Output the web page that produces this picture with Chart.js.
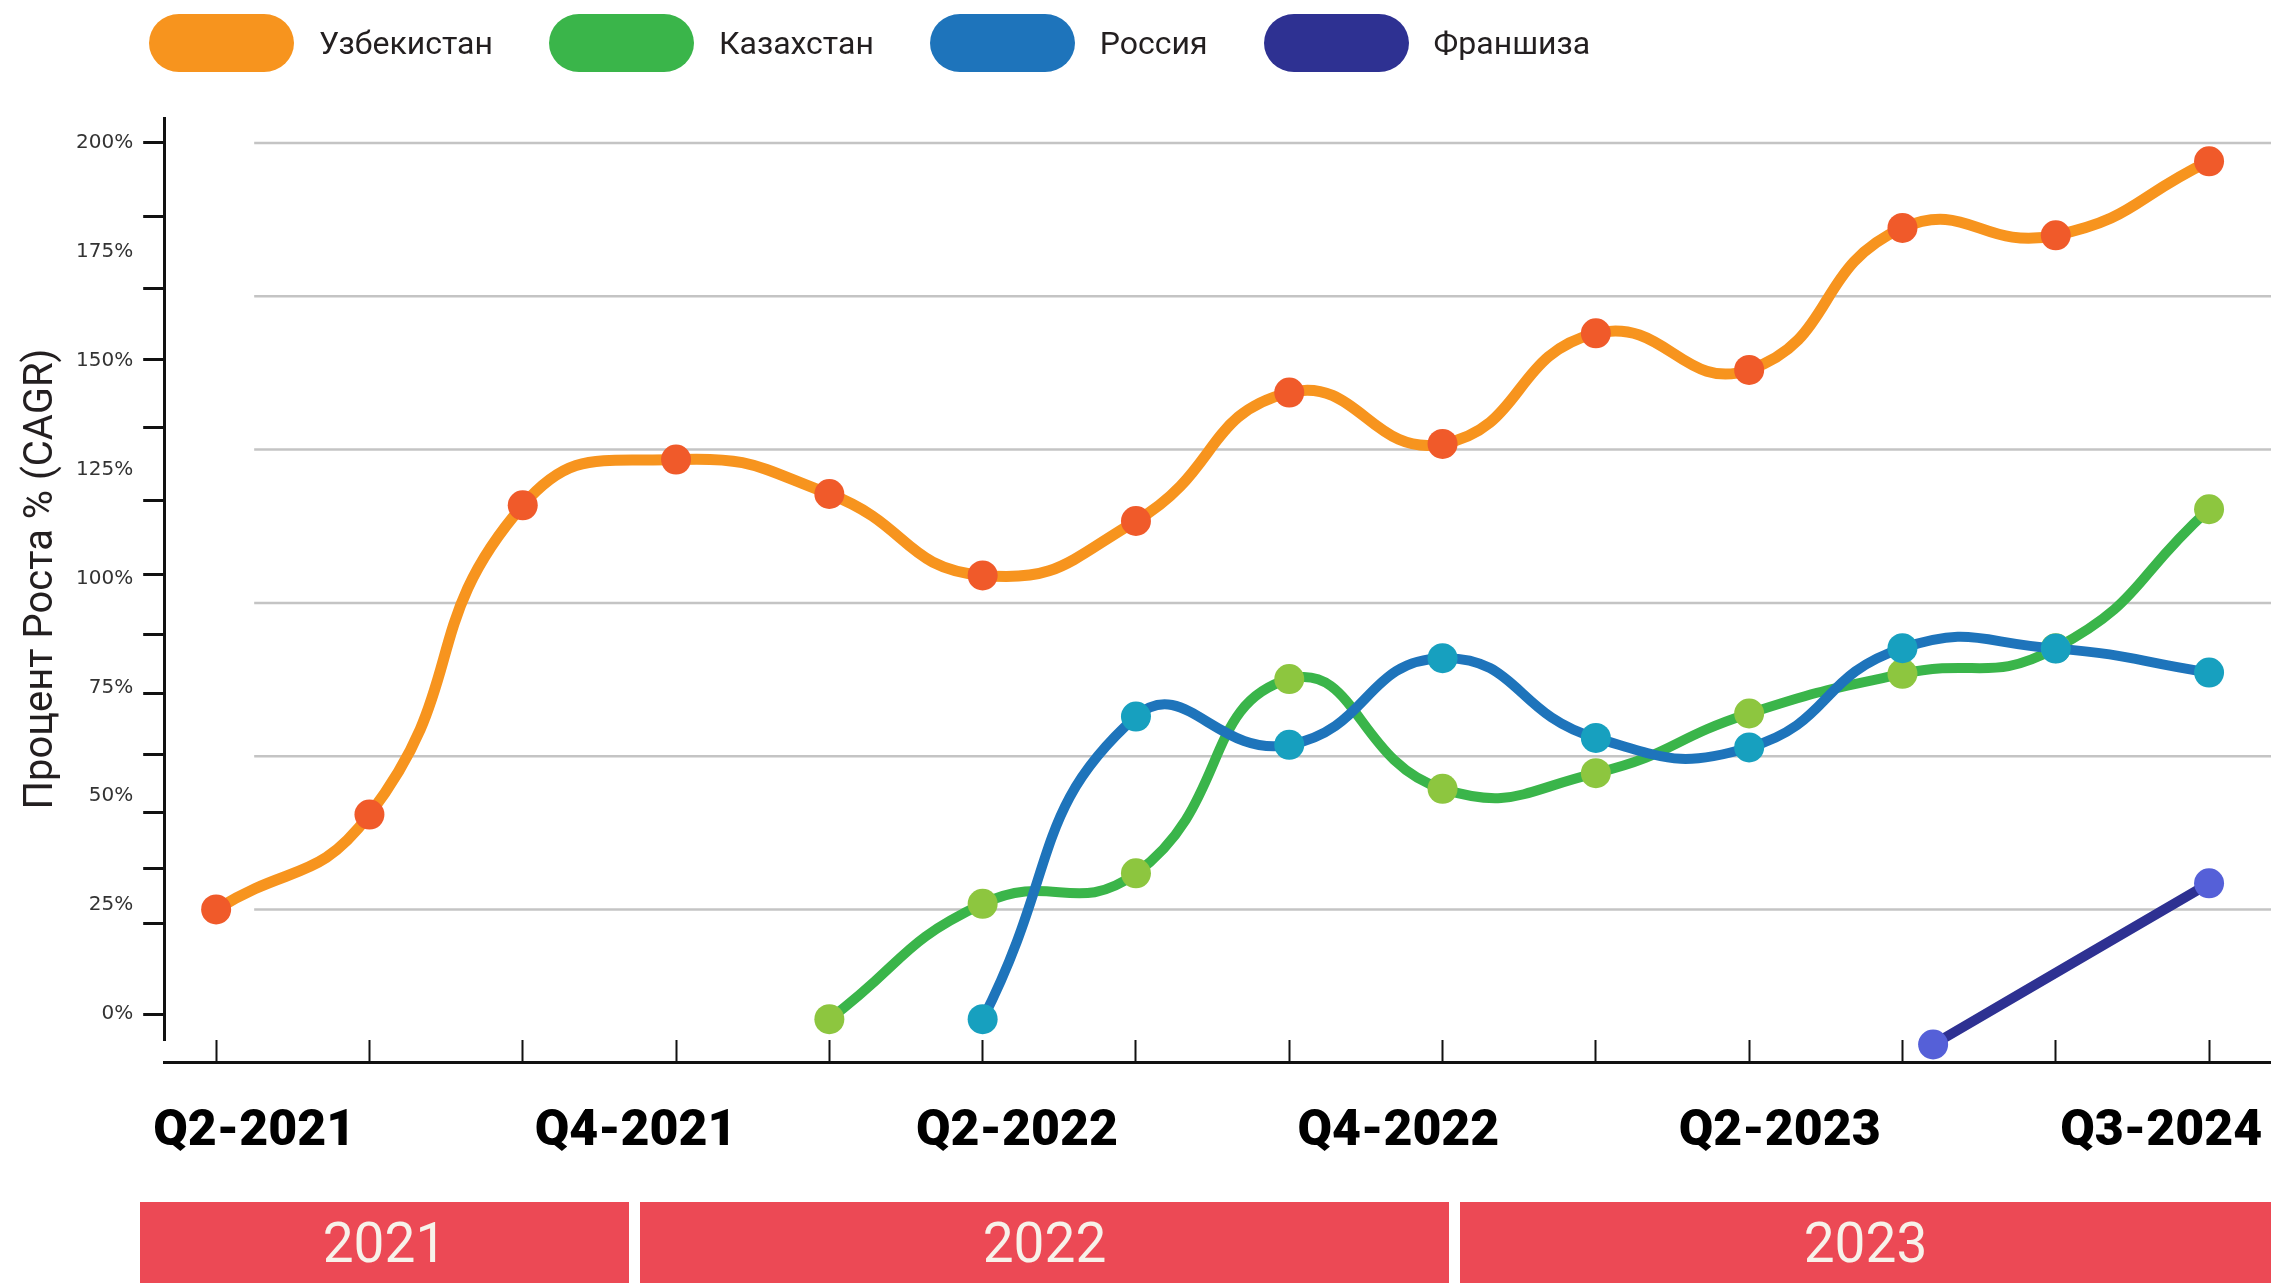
<!DOCTYPE html>
<html lang="ru">
<head>
  <meta charset="UTF-8">
  <title>Процент Роста % (CAGR)</title>
  <script src="https://cdn.jsdelivr.net/npm/chart.js"></script>
  <style>
    html, body {
      margin: 0;
      overflow: hidden;
      background: #fff;
      font-family: Roboto, "Noto Sans", sans-serif;
    }
    #wrap {
      position: relative;
      width: 2271px;
      height: 1283px;
    }
    #growthChart {
      display: block;
    }
    #legend {
      position: absolute;
      top: 14px;
      left: 149px;
      display: flex;
      gap: 56px;
    }
    .item {
      display: flex;
      align-items: center;
      font-size: 32px;
      color: #231f20;
    }
    .swatch {
      width: 145px;
      height: 58px;
      border-radius: 30px / 29px;
      margin-right: 25px;
    }
    #years {
      position: absolute;
      top: 1202px;
      left: 140px;
      right: 0;
      height: 81px;
      display: flex;
      gap: 11px;
    }
    #years div {
      background: #ec4955;
      color: #f7f2ea;
      font-size: 55px;
      display: flex;
      align-items: center;
      justify-content: center;
    }
    #years div:nth-child(1) { flex: 489; }
    #years div:nth-child(2) { flex: 809; }
    #years div:nth-child(3) { flex: 811; }
  </style>
</head>
<body>
  <div id="wrap">
    <canvas id="growthChart" width="2271" height="1283"></canvas>
    <div id="legend"></div>
    <div id="years"></div>
  </div>
  <script>
    // кварталы (ось X)
    const quarters = ['Q2-2021', 'Q3-2021', 'Q4-2021', 'Q1-2022', 'Q2-2022', 'Q3-2022', 'Q4-2022',
                      'Q1-2023', 'Q2-2023', 'Q3-2023', 'Q4-2023', 'Q1-2024', 'Q2-2024', 'Q3-2024'];
    // подписи под осью
    const periodLabels = ['Q2-2021', 'Q4-2021', 'Q2-2022', 'Q4-2022', 'Q2-2023', 'Q3-2024'];
    const years = ['2021', '2022', '2023'];

    // значения, % (CAGR)
    const uzbekistan = [24.0, 45.8, 116.8, 127.3, 119.4, 100.7, 113.2, 142.7, 130.9, 156.3, 147.9, 180.5, 178.8, 195.8];
    const kazakhstan = [null, null, null, null, -1.2, 25.3, 32.3, 76.9, 51.7, 55.3, 69.0, 78.1, 84.0, 115.9];
    const russia     = [null, null, null, null, null, -1.2, 68.3, 61.8, 81.7, 63.4, 61.2, 84.0, 83.9, 78.4];
    const franchiseQ = [11.2, 13];
    const franchise  = [-7.0, 30.0];

    // ось Y
    const yLabelValues = [0, 25, 50, 75, 100, 125, 150, 175, 200];
    const yMarkValues = [0, 20.7, 33.4, 46.3, 59.7, 73.7, 87.1, 100.9, 118, 134.6, 150.3, 166.7, 183.1, 200];
    const gridValues = [200, 164.8, 129.6, 94.4, 59.2, 24.0];

    function toPoints(values) {
      return values.map((v, i) => ({ x: i, y: v })).filter(p => p.y !== null);
    }

    const yTickValues = [...new Set(yLabelValues.concat(yMarkValues))].sort((a, b) => a - b);

    // серые линии сетки начинаются чуть правее оси
    const gridPlugin = {
      id: 'offsetGrid',
      beforeDatasetsDraw(chart) {
        const { ctx, chartArea, scales } = chart;
        ctx.save();
        ctx.strokeStyle = '#c4c4c4';
        ctx.lineWidth = 2.5;
        gridValues.forEach(v => {
          const py = scales.y.getPixelForValue(v);
          ctx.beginPath();
          ctx.moveTo(chartArea.left + 90, py);
          ctx.lineTo(chartArea.right, py);
          ctx.stroke();
        });
        ctx.restore();
      }
    };

    const baseLine = { fill: false, tension: 0.5, pointRadius: 15, pointHoverRadius: 15, pointBorderWidth: 0, clip: false };

    const ctx = document.getElementById('growthChart').getContext('2d');
    const chart = new Chart(ctx, {
      type: 'line',
      data: {
        datasets: [
          Object.assign({}, baseLine, {
            label: 'Узбекистан', data: toPoints(uzbekistan), order: 0,
            borderColor: '#f7941e', pointBackgroundColor: '#f05a2a', borderWidth: 11
          }),
          Object.assign({}, baseLine, {
            label: 'Казахстан', data: toPoints(kazakhstan), order: 2,
            borderColor: '#3ab54a', pointBackgroundColor: '#8dc63f', borderWidth: 10
          }),
          Object.assign({}, baseLine, {
            label: 'Россия', data: toPoints(russia), order: 1,
            borderColor: '#1e74bb', pointBackgroundColor: '#17a0bf', borderWidth: 10
          }),
          Object.assign({}, baseLine, {
            label: 'Франшиза', data: franchise.map((v, i) => ({ x: franchiseQ[i], y: v })), order: 0,
            borderColor: '#2e3192', pointBackgroundColor: '#5560d8', borderWidth: 10
          })
        ]
      },
      options: {
        responsive: false,
        animation: false,
        layout: { autoPadding: false, padding: { top: 118, left: 10, right: 0, bottom: 81 } },
        plugins: {
          legend: { display: false },
          tooltip: { enabled: false }
        },
        scales: {
          x: {
            type: 'linear',
            position: 'bottom',
            weight: 0,
            min: -0.339,
            max: 13.404,
            afterBuildTicks: s => { s.ticks = quarters.map((q, i) => ({ value: i })); },
            afterFit: s => { s.paddingLeft = 0; s.paddingRight = 0; },
            ticks: { display: false },
            grid: { drawOnChartArea: false, drawTicks: true, tickLength: 22, tickColor: '#111', tickWidth: 2 },
            border: { display: false }
          },
          xl: {
            type: 'linear',
            position: 'bottom',
            weight: 1,
            min: -0.236,
            max: 5.288,
            afterBuildTicks: s => { s.ticks = periodLabels.map((p, i) => ({ value: i })); },
            afterFit: s => { s.paddingLeft = 0; s.paddingRight = 0; },
            ticks: {
              callback: v => periodLabels[v],
              autoSkip: false,
              maxRotation: 0,
              padding: 40,
              color: '#000',
              font: { family: 'Roboto', size: 50, weight: 900 }
            },
            grid: { display: false, drawTicks: false },
            border: { display: true, color: '#111', width: 3 }
          },
          y: {
            min: -5.97,
            max: 205.74,
            afterBuildTicks: s => { s.ticks = yTickValues.map(v => ({ value: v })); },
            ticks: {
              autoSkip: false,
              padding: 10,
              color: '#333',
              font: { family: 'DejaVu Sans', size: 20 },
              callback: v => yLabelValues.includes(v) ? v + '%' : ''
            },
            grid: {
              drawOnChartArea: false,
              drawTicks: true,
              tickLength: 21,
              tickWidth: 3,
              tickColor: c => yMarkValues.includes(c.tick.value) ? '#111' : 'rgba(0,0,0,0)'
            },
            border: { display: true, color: '#111', width: 3 },
            title: {
              display: true,
              text: 'Процент Роста % (CAGR)',
              color: '#231f20',
              font: { family: 'Roboto', size: 40 },
              padding: { top: 8, bottom: 0 }
            }
          }
        }
      },
      plugins: [gridPlugin]
    });

    // легенда
    const legendEl = document.getElementById('legend');
    chart.data.datasets.forEach(ds => {
      const item = document.createElement('div');
      item.className = 'item';
      const sw = document.createElement('span');
      sw.className = 'swatch';
      sw.style.background = ds.borderColor;
      item.appendChild(sw);
      item.appendChild(document.createTextNode(ds.label));
      legendEl.appendChild(item);
    });

    // полосы лет
    const yearsEl = document.getElementById('years');
    years.forEach(y => {
      const d = document.createElement('div');
      d.textContent = y;
      yearsEl.appendChild(d);
    });
  </script>
</body>
</html>
